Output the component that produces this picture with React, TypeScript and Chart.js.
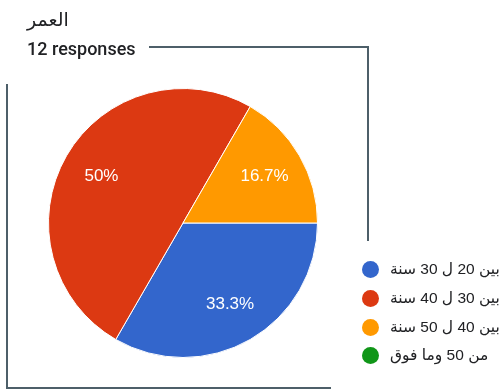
import React, { useEffect, useRef } from "react";
import { Chart, registerables } from "chart.js";

Chart.register(...registerables);

const title = "العمر";
const subtitle = "12 responses";
const categories = ["بين 20 ل 30 سنة", "بين 30 ل 40 سنة", "بين 40 ل 50 سنة", "من 50 وما فوق"];
const counts = [4, 6, 2, 0];
const percentLabels = ["33.3%", "50%", "16.7%", ""];
const colors = ["#3366cc", "#dc3912", "#ff9900", "#109618"];

const labelPlugin = {
  id: "sliceLabels",
  afterDatasetsDraw(chart: any) {
    const ctx = chart.ctx;
    const meta = chart.getDatasetMeta(0);
    ctx.save();
    ctx.fillStyle = "#ffffff";
    ctx.font = "17px 'Liberation Sans', Arial, sans-serif";
    ctx.textAlign = "center";
    ctx.textBaseline = "middle";
    meta.data.forEach((arc: any, i: number) => {
      const txt = percentLabels[i];
      if (!txt) return;
      const p = arc.getProps(["x", "y", "startAngle", "endAngle", "outerRadius"], true);
      const mid = (p.startAngle + p.endAngle) / 2;
      const r = p.outerRadius * 0.7;
      ctx.fillText(txt, p.x + Math.cos(mid) * r, p.y + Math.sin(mid) * r);
    });
    ctx.restore();
  },
};

export default function App() {
  const ref = useRef<HTMLCanvasElement>(null);
  useEffect(() => {
    if (!ref.current) return;
    const chart = new Chart(ref.current, {
      type: "pie",
      data: {
        labels: categories,
        datasets: [
          {
            data: counts,
            backgroundColor: colors,
            borderColor: "#ffffff",
            borderWidth: 1,
          },
        ],
      },
      options: {
        animation: false,
        responsive: false,
        rotation: 90,
        layout: { padding: { left: 48, right: 184, top: 88, bottom: 32 } },
        plugins: { legend: { display: false }, tooltip: { enabled: false } },
      },
      plugins: [labelPlugin],
    });
    return () => chart.destroy();
  }, []);

  const line = "#4d5f69";
  const legendTop = [269, 298, 327, 355];
  return (
    <div style={{ position: "absolute", left: 0, top: 0, width: 502, height: 390, overflow: "hidden", background: "#fff", fontFamily: "Roboto, 'Liberation Sans', Arial, sans-serif" }}>
      <canvas ref={ref} width={502} height={390} style={{ position: "absolute", left: 0, top: 0 }} />
      <div style={{ position: "absolute", left: 27, top: 8, fontSize: 19, color: "#202124", fontFamily: "'DejaVu Sans', sans-serif" }}>{title}</div>
      <div style={{ position: "absolute", left: 27, top: 38, fontSize: 18, fontWeight: 500, color: "#202124" }}>{subtitle}</div>
      <div style={{ position: "absolute", left: 149, top: 46, width: 220, height: 2, background: line }} />
      <div style={{ position: "absolute", left: 367, top: 46, width: 2, height: 195, background: line }} />
      <div style={{ position: "absolute", left: 6, top: 84, width: 2, height: 305, background: line }} />
      <div style={{ position: "absolute", left: 6, top: 387, width: 325, height: 2, background: line }} />
      {categories.map((c, i) => (
        <div key={c} style={{ position: "absolute", left: 362, top: legendTop[i] - 11, height: 22, display: "flex", alignItems: "center", whiteSpace: "nowrap" }}>
          <span style={{ width: 17, height: 17, borderRadius: "50%", background: colors[i], display: "inline-block", flex: "none" }} />
          <span dir="rtl" style={{ marginLeft: 11, fontSize: 15.5, color: "#202124", fontFamily: "'Liberation Sans', 'DejaVu Sans', sans-serif" }}>{c}</span>
        </div>
      ))}
    </div>
  );
}
